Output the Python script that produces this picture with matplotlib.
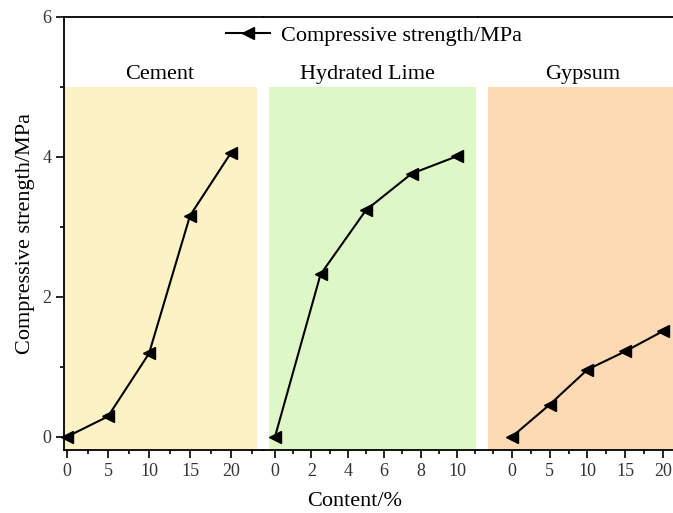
import matplotlib
matplotlib.use('Agg')
import matplotlib.pyplot as plt
from matplotlib.ticker import MultipleLocator

plt.rcParams['font.family'] = ['Liberation Serif', 'DejaVu Serif']

# compressive strength (MPa) vs. admixture content (%)
cement_x = [0, 5, 10, 15, 20]
cement_y = [0.0, 0.29, 1.19, 3.16, 4.06]
lime_x = [0, 2.5, 5, 7.5, 10]
lime_y = [0.0, 2.32, 3.24, 3.76, 4.01]
gypsum_x = [0, 5, 10, 15, 20]
gypsum_y = [0.0, 0.46, 0.96, 1.22, 1.51]

names = ['Cement', 'Hydrated Lime', 'Gypsum']
colors = ['#fdf2c6', '#ddf8c6', '#fddab4']

fig = plt.figure(figsize=(6.73, 5.13), dpi=100)

# three panels sharing one y axis, laid side by side
W, H = 673.0, 513.0
bottom, top = 1 - 450 / H, 1 - 17 / H
panels = [
    # left px, right px, xlim, span, major, minor, label x
    (64, 263, (-0.37, 23.9), (-0.37, 23.17), 5, 2.5, 11.3),
    (263, 478, (-0.66, 11.15), (-0.33, 11.04), 2, 1, 5.1),
    (478, 700, (-4.5, 24.9), (-3.18, 24.9), 5, 2.5, 9.3),
]
data = [(cement_x, cement_y), (lime_x, lime_y), (gypsum_x, gypsum_y)]

axes = []
for i, (l, r, xl, span, maj, mnr, lx) in enumerate(panels):
    ax = fig.add_axes([l / W, bottom, (r - l) / W, top - bottom])
    ax.set_xlim(*xl)
    ax.set_ylim(-0.19, 6)
    ax.axvspan(span[0], span[1], ymin=0, ymax=(5 + 0.19) / 6.19,
               color=colors[i], lw=0, zorder=0)
    x, y = data[i]
    line, = ax.plot(x, y, color='black', lw=1.5, marker='<', ms=8,
                    zorder=3, clip_on=False)
    ax.text(lx, 5.18, names[i], ha='center', va='center', fontsize=16)
    ax.xaxis.set_major_locator(MultipleLocator(maj))
    ax.xaxis.set_minor_locator(MultipleLocator(mnr))
    ax.tick_params(axis='x', which='major', direction='out', length=6,
                   width=1.2, labelsize=13, pad=3, labelcolor='#333333')
    ax.tick_params(axis='x', which='minor', direction='out', length=3, width=1.2)
    ax.spines['right'].set_visible(False)
    for s in ['top', 'bottom', 'left']:
        ax.spines[s].set_linewidth(1.3)
    if i > 0:
        ax.spines['left'].set_visible(False)
        ax.tick_params(axis='y', which='both', left=False, labelleft=False)
    else:
        ax.yaxis.set_major_locator(MultipleLocator(2))
        ax.yaxis.set_minor_locator(MultipleLocator(1))
        ax.tick_params(axis='y', which='major', direction='out', length=6,
                       width=1.2, labelsize=13, pad=3, labelcolor='#333333')
        ax.tick_params(axis='y', which='minor', direction='out', length=3, width=1.2)
    # hide x tick labels that fall outside the data range
    ax.set_xticks([t for t in ax.get_xticks() if 0 <= t <= max(x)])
    axes.append(ax)

fig.legend([line], ['Compressive strength/MPa'], loc='center',
           bbox_to_anchor=(374 / W, 1 - 36 / H), frameon=False, fontsize=16,
           handlelength=1.95, handletextpad=0.5, borderpad=0)

fig.text(355 / W, 1 - 502 / H, 'Content/%', ha='center', va='center', fontsize=16)
fig.text(26 / W, 1 - 234 / H, 'Compressive strength/MPa', ha='center', va='center',
         rotation=90, fontsize=16)

fig.savefig('out.png', dpi=100)
